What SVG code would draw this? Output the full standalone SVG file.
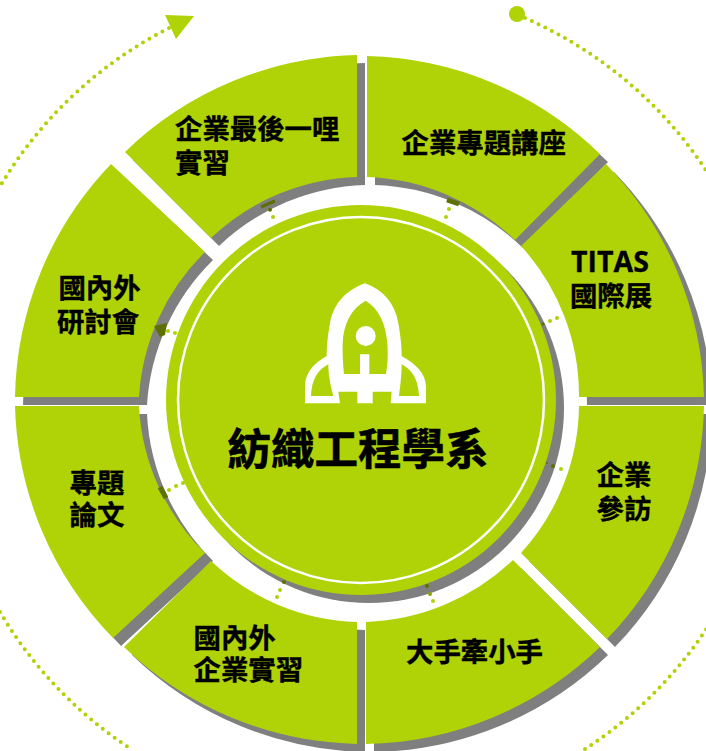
<svg xmlns="http://www.w3.org/2000/svg" width="706" height="751" viewBox="0 0 706 751">
<style>
.g{fill:#afd306}
.s{fill:#7f7f7f}
.t{font-family:"Noto Sans CJK TC","Noto Sans",sans-serif;font-weight:700;font-size:27.4px;fill:#000;stroke:#000;stroke-width:.4}
.l{font-family:"Open Sans","Noto Sans CJK TC",sans-serif;font-weight:700;font-size:28.5px;fill:#000;stroke:#000;stroke-width:.3}
.d{fill:none;stroke:#afd306;stroke-width:4;stroke-linecap:round;stroke-dasharray:0 7.45}
.a{fill:#afd306}
.b{fill:#5f7000}
</style>
<defs>
<path id="p1" d="M357 55V177A223 223 0 0 0 211 238L125 152A345 345 0 0 1 357 55Z"/>
<path id="p2" d="M367 56A345 345 0 0 1 600 154L515 240A223 223 0 0 0 367 177Z"/>
<path id="p3" d="M606 164A345 345 0 0 1 704 397H579A222 222 0 0 0 521 246Z"/>
<path id="p4" d="M579 406H704A345 345 0 0 1 607 639L521 553A222 222 0 0 0 579 406Z"/>
<path id="p5" d="M513 560L600 647A345 345 0 0 1 366 744V622A223 223 0 0 0 513 560Z"/>
<path id="p6" d="M211 561A223 223 0 0 0 357 622V744A345 345 0 0 1 124 647Z"/>
<path id="p7" d="M15 406H139A222 222 0 0 0 205 553L113 638A345 345 0 0 1 15 406Z"/>
<path id="p8" d="M111 164L205 252A222 222 0 0 0 139 397H15A345 345 0 0 1 111 164Z"/>
</defs>
<g id="connectors">
<path class="d" d="M169 28A417 417 0 0 0 -15 214"/>
<path class="d" d="M525 18A417 417 0 0 1 720 193"/>
<path class="d" d="M0 612A417 417 0 0 0 131 749"/>
<path class="d" d="M585 749A417 417 0 0 0 720 607"/>
<polygon class="a" points="165,15 194,16 176,39"/>
<circle class="a" cx="517" cy="14" r="8"/>
</g>
<g id="shadows" class="s" transform="translate(8 8)">
<use href="#p1"/><use href="#p2"/><use href="#p3"/><use href="#p4"/><use href="#p5"/><use href="#p6"/><use href="#p7"/><use href="#p8"/>
</g>
<g id="seg-1"><use class="g" href="#p1"/><text class="t" x="175" y="139">企業最後一哩</text><text class="t" x="175" y="173">實習</text></g>
<g id="seg-2"><use class="g" href="#p2"/><text class="t" x="401.500" y="153">企業專題講座</text></g>
<g id="seg-3"><use class="g" href="#p3"/><text class="l" x="610" y="272" text-anchor="middle">TITAS</text><text class="t" x="611" y="306" text-anchor="middle">國際展</text></g>
<g id="seg-4"><use class="g" href="#p4"/><text class="t" x="624" y="485" text-anchor="middle">企業</text><text class="t" x="624" y="519" text-anchor="middle">參訪</text></g>
<g id="seg-5"><use class="g" href="#p5"/><text class="t" x="406" y="662">大手牽小手</text></g>
<g id="seg-6"><use class="g" href="#p6"/><text class="t" x="193.500" y="648">國內外</text><text class="t" x="193.500" y="680">企業實習</text></g>
<g id="seg-7"><use class="g" href="#p7"/><text class="t" x="97" y="493" text-anchor="middle">專題</text><text class="t" x="97" y="525" text-anchor="middle">論文</text></g>
<g id="seg-8"><use class="g" href="#p8"/><text class="t" x="99.500" y="298" text-anchor="middle">國內外</text><text class="t" x="98" y="332" text-anchor="middle">研討會</text></g>
<g id="hub">
<circle class="s" cx="369" cy="408" r="195"/>
<circle class="g" cx="361" cy="400" r="195"/>
<circle cx="361" cy="400" r="183" fill="none" stroke="#fff" stroke-width="2.5"/>
<path fill="#fff" fill-rule="evenodd" transform="translate(280 270) scale(.3333)" d="M255 40C200 60 160 100 150 160C143 200 140 230 140 258C100 280 75 310 75 350V400H180L175 365H232V400H278V365H335L332 400H438V350C438 310 405 280 365 258C365 230 362 200 355 160C345 100 310 60 255 40ZM257 92C215 115 190 160 188 220C187 260 190 290 192 312H240V253H268V312H318C322 290 325 260 322 220C318 160 295 115 257 92ZM145 283C115 300 95 325 93 378H160C150 340 145 310 145 283ZM365 283C395 300 415 325 417 378H357C362 340 365 310 365 283Z"/>
<circle cx="365.700" cy="336" r="10" fill="#fff"/>
<text id="hub-title" x="358" y="465" text-anchor="middle" style="font-family:'Noto Sans CJK TC',sans-serif;font-weight:700;font-size:43.5px;fill:#000;stroke:#000;stroke-width:.6">紡織工程學系</text>
</g>
<g id="dots">
<path d="M261 207L275 201" stroke="#5f7000" stroke-width="3"/>
<circle class="b" cx="270" cy="209.700" r="2"/><circle class="a" cx="273" cy="217" r="2"/>
<path d="M447 200L459 204" stroke="#5f7000" stroke-width="5"/>
<circle class="a" cx="449" cy="209" r="2"/><circle class="a" cx="446" cy="217" r="2"/>
<circle class="a" cx="550" cy="321" r="2"/><circle class="a" cx="557" cy="318" r="2"/><circle class="b" cx="543" cy="324" r="1.600"/>
<circle class="a" cx="561" cy="469" r="2"/><circle class="b" cx="553" cy="466" r="2"/><circle class="b" cx="547" cy="463" r="1"/>
<circle class="b" cx="284" cy="582" r="2"/><circle class="a" cx="280" cy="590" r="2"/><circle class="a" cx="277" cy="597" r="2"/>
<circle class="b" cx="427" cy="586" r="2"/><circle cx="430" cy="594" r="2" fill="#8ea300"/><circle class="a" cx="433" cy="601" r="2"/>
<polygon class="b" points="154,326 167,323 165,335 160,337"/>
<circle class="a" cx="168" cy="331" r="2"/><circle class="a" cx="175" cy="333" r="2"/>
<path d="M160 487L166 498" stroke="#5f7000" stroke-width="5"/>
<circle class="a" cx="169" cy="490" r="2"/><circle class="a" cx="176" cy="486" r="2"/><circle class="a" cx="183" cy="483" r="2"/>
</g>
</svg>
